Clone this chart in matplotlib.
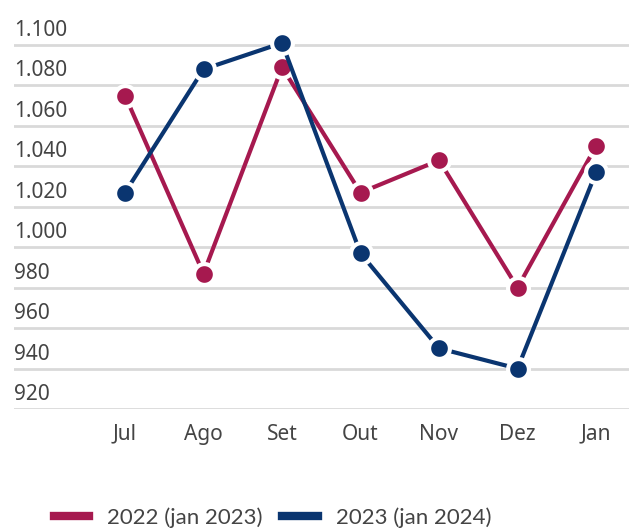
import matplotlib.pyplot as plt
from matplotlib.lines import Line2D
from matplotlib.transforms import blended_transform_factory, offset_copy

# data
months = ["Jul", "Ago", "Set", "Out", "Nov", "Dez", "Jan"]
serie_2022 = [1075, 987, 1089, 1027, 1043, 980, 1050]
serie_2023 = [1027, 1088, 1101, 997, 950, 940, 1037]
labels = ["2022 (jan 2023)", "2023 (jan 2024)"]
y_ticks = [920, 940, 960, 980, 1000, 1020, 1040, 1060, 1080, 1100]

col_2022 = "#A6194F"
col_2023 = "#0A3570"
grid_col = "#D9D9D9"
text_col = "#444444"

plt.rcParams['font.family'] = ['Noto Sans', 'DejaVu Sans']

fig = plt.figure(figsize=(6.29, 5.29), dpi=100)
ax = fig.add_axes([14 / 629, 1 - 409 / 529, 1 - 14 / 629, (409 - 34.9) / 529])

x = list(range(len(months)))
for vals, col in [(serie_2022, col_2022), (serie_2023, col_2023)]:
    ax.plot(x, vals, color=col, lw=3, marker='o', ms=15,
            markeredgecolor='white', markeredgewidth=3, zorder=3)

ax.set_xlim(-1.414, 6.42)
ax.set_ylim(920, 1105)

ax.set_yticks(y_ticks)
ax.yaxis.grid(True, color=grid_col, lw=2)
ax.set_axisbelow(True)
ax.tick_params(axis='y', left=False, labelleft=False)

# y labels sit above the gridlines, left aligned
tr = offset_copy(blended_transform_factory(ax.transAxes, ax.transData),
                 fig=fig, x=0, y=4, units='dots')
for v in y_ticks:
    lab = f"{v:,}".replace(",", ".")
    ax.text(0, v, lab, transform=tr, ha='left', va='bottom',
            fontsize=15, color=text_col)

ax.set_xticks(x)
ax.set_xticklabels(months, fontsize=15, color=text_col)
ax.tick_params(axis='x', bottom=False, pad=7)

for s in ax.spines.values():
    s.set_visible(False)

handles = [Line2D([], [], color=col_2022, lw=6),
           Line2D([], [], color=col_2023, lw=6)]
fig.legend(handles, labels, loc='lower center', bbox_to_anchor=(0.433, -0.035),
           ncol=2, frameon=False, handlelength=1.6,
           handletextpad=0.8, columnspacing=0.9,
           prop={'family': 'Lato', 'size': 16},
           labelcolor=text_col)

fig.savefig("out.png", dpi=100)
